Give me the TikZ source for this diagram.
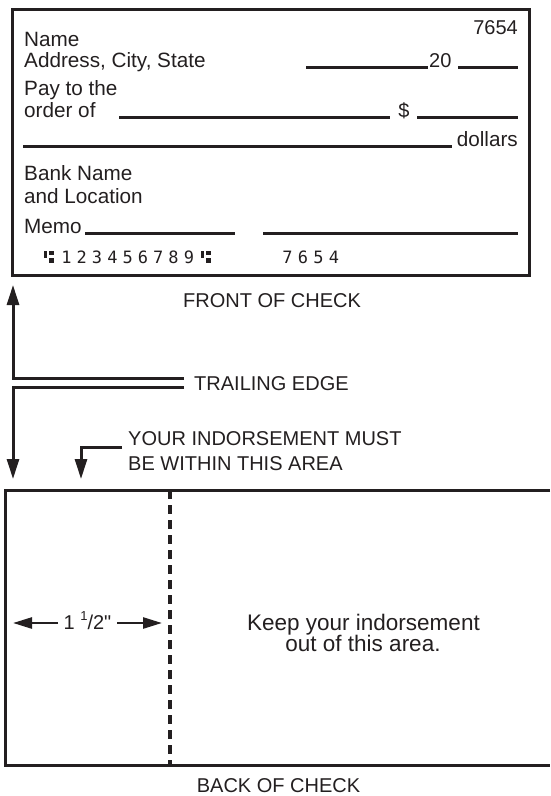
\documentclass[tikz,border=0pt]{standalone}
\usepackage{fontspec}
\setmainfont{Liberation Sans}
\newfontfamily\micrfont{DejaVu Sans Mono}
\usetikzlibrary{arrows.meta}
\definecolor{ink}{HTML}{231F20}
\begin{document}
\begin{tikzpicture}[x=1pt,y=-1pt,
  txt/.style={inner sep=0pt, font=\fontsize{20}{21}\selectfont, text=ink},
  ctxt/.style={inner sep=0pt, font=\fontsize{20.7}{21}\selectfont, text=ink},
  ktxt/.style={inner sep=0pt, font=\fontsize{22.5}{21}\selectfont, text=ink},
  micr/.style={inner sep=0pt, font=\micrfont\fontsize{17}{17}\selectfont, text=ink},
  rule/.style={line width=3pt, draw=ink},
  ptr/.style={line width=3pt, draw=ink, line join=miter, -{Triangle[length=20pt,width=12pt]}},
  dim/.style={line width=2.5pt, draw=ink, -{Triangle[length=19pt,width=11pt]}},
]
\useasboundingbox (0,0) rectangle (550,796);

% ---------- front of check ----------
\draw[rule] (12.5,9.7) rectangle (529,275);
\node[txt, anchor=base east] (chknum) at (518,34) {7654};
\node[ctxt, anchor=base west] (name) at (24,46.5) {Name};
\node[ctxt, anchor=base west] (addr) at (24,67) {Address, City, State};
\node[txt, anchor=base west] (twenty) at (429,67) {20};
\draw[rule] (306,67.7) -- (428,67.7);
\draw[rule] (458,67.7) -- (518,67.7);
\node[ctxt, anchor=base west] (pay) at (24,95) {Pay to the};
\node[ctxt, anchor=base west] (order) at (24,117) {order of};
\draw[rule] (119,117) -- (390,117);
\node[txt, anchor=base] (dollar) at (404,117) {\$};
\draw[rule] (417,117) -- (518,117);
\draw[rule] (23,146) -- (452,146);
\node[ctxt, anchor=base east] (dollars) at (518,146) {dollars};
\node[ctxt, anchor=base west] (bank) at (24,180) {Bank Name};
\node[ctxt, anchor=base west] (loc) at (24,203) {and Location};
\node[ctxt, anchor=base west] (memo) at (24,233) {Memo};
\draw[rule] (85,233) -- (235,233);
\draw[rule] (263,233) -- (518,233);

% MICR line
\foreach \dx in {0,157}{
  \fill[ink] (44+\dx,251) rectangle (46.5+\dx,258);
  \fill[ink] (48.5+\dx,251) rectangle (53.5+\dx,255);
  \fill[ink] (48.5+\dx,257.5) rectangle (53.5+\dx,263);
}
\foreach \d [count=\i] in {1,2,3,4,5,6,7,8,9}
  \node[micr] (m\i) at ({66.5+15.3*(\i-1)},257) {\d};
\node[micr] (n1) at (287.5,257) {7};
\node[micr] (n2) at (303,257) {6};
\node[micr] (n3) at (318.5,257) {5};
\node[micr] (n4) at (334,257) {4};

\node[txt, anchor=base] (front) at (272,307) {FRONT OF CHECK};

% ---------- trailing edge ----------
\node[txt, anchor=base west] (trail) at (194,390) {TRAILING EDGE};
\coordinate (tu) at (184,378);
\coordinate (tl) at (184,387);
\coordinate (upTip) at (13,285);
\coordinate (dnTip) at (13,479);
\draw[ptr] (tu) -| (upTip);
\draw[ptr] (tl) -| (dnTip);

% ---------- indorsement note ----------
\node[txt, anchor=base west] (ind1) at (128,445) {YOUR INDORSEMENT MUST};
\node[txt, anchor=base west] (ind2) at (128,470) {BE WITHIN THIS AREA};
\coordinate (ia) at (122,447);
\coordinate (iaTip) at (81,479);
\draw[ptr] (ia) -| (iaTip);

% ---------- back of check ----------
\draw[line width=3pt, draw=ink, line join=miter] (550,490) -- (5,490) -- (5,765) -- (550,765);
\draw[line width=3.5pt, draw=ink, dash pattern=on 8.5pt off 6.5pt] (170,490) -- (170,765);

\node[txt, anchor=base] (half) at (87.5,629) {1 \raisebox{0.42em}{\fontsize{13}{13}\selectfont 1}/2\textquotedbl};
\coordinate (hlb) at (58,623);
\coordinate (hl) at (13,623);
\coordinate (hrb) at (117,623);
\coordinate (hr) at (162,623);
\draw[dim] (hlb) -- (hl);
\draw[dim] (hrb) -- (hr);

\node[ktxt, anchor=base] (keep1) at (363.5,630) {Keep your indorsement};
\node[ktxt, anchor=base] (keep2) at (363,651) {out of this area.};

\node[txt, anchor=base] (back) at (278.5,792.5) {BACK OF CHECK};
\end{tikzpicture}
\end{document}
